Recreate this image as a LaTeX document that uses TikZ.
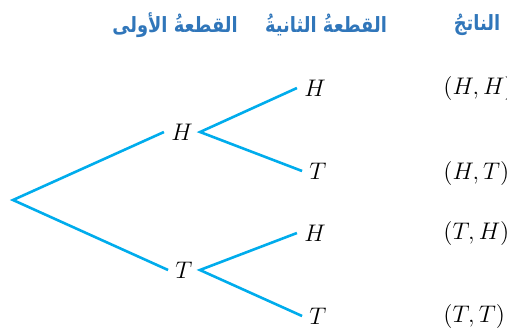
\documentclass[tikz,border=0pt]{standalone}
\usepackage{fontspec}
\usepackage{graphicx}
\newfontfamily\arabicfont[Script=Arabic]{DejaVu Sans}
\TeXXeTstate=1
\usepackage{tikz}
\definecolor{branchblue}{RGB}{0,172,236}
\definecolor{headblue}{RGB}{48,118,186}
\newcommand{\coltitle}[1]{\scalebox{0.85}[1]{\beginR #1\endR}}

\begin{document}
\begin{tikzpicture}[x=0.5pt, y=-0.5pt,
    branch/.style={draw=branchblue, line width=1.3pt},
    lbl/.style={font=\fontsize{12}{14}\selectfont, inner sep=3.5pt},
    head/.style={font=\fontsize{10.5}{12}\selectfont\arabicfont\bfseries, text=headblue}]
      \useasboundingbox (0,0) rectangle (507,329);

      % 1. column titles
      \node[head] (t1) at (175,25) {\coltitle{القطعةُ الأولى}};
      \node[head] (t2) at (326,25) {\coltitle{القطعةُ الثانيةُ}};
      \node[head] (t3) at (477,25) {\coltitle{الناتجُ}};

      % 2. root and first toss
      \coordinate (root) at (13,200);
      \node[lbl] (H) at (182,132) {$H$};
      \node[lbl] (T) at (184,270) {$T$};

      % 3. second toss
      \node[lbl] (HH) at (315,88) {$H$};
      \node[lbl] (HT) at (318,171) {$T$};
      \node[lbl] (TH) at (315,233) {$H$};
      \node[lbl] (TT) at (318,316) {$T$};

      % 4. outcomes
      \node[lbl, anchor=west] (oHH) at (436,88) {$(H, H)$};
      \node[lbl, anchor=west] (oHT) at (436,173) {$(H, T)$};
      \node[lbl, anchor=west] (oTH) at (436,233) {$(T, H)$};
      \node[lbl, anchor=west] (oTT) at (436,316) {$(T, T)$};

      % 5. branches
      \draw[branch] (H.west) -- (root) -- (T.west);
      \draw[branch] (HH.west) -- (H.east) -- (HT.west);
      \draw[branch] (TH.west) -- (T.east) -- (TT.west);
    \end{tikzpicture}
\end{document}
